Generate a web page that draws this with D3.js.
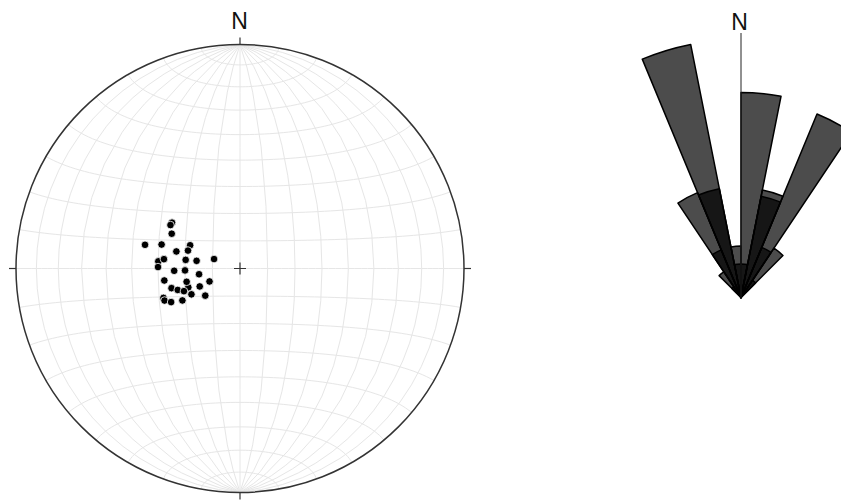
<!DOCTYPE html>
<html lang="en">
<head>
<meta charset="utf-8">
<title>Stereonet and rose diagram</title>
<script src="https://d3js.org/d3.v7.min.js"></script>
<style>
  body { margin: 0; background: #fff; }
  .grid { fill: none; stroke: #e6e6e6; stroke-width: 1; }
  .primitive { fill: none; stroke: #333; stroke-width: 1.5; }
  .tick { stroke: #333; stroke-width: 1.2; }
  .pole { fill: #000; stroke: #fff; stroke-width: 0.8; }
  .petal { fill: #000; fill-opacity: 0.7; stroke: #000; stroke-width: 1.5; stroke-linejoin: round; }
  .label { font-family: "Liberation Sans", Arial, sans-serif; fill: #111; text-anchor: middle; }
</style>
</head>
<body>
<div id="chart"></div>
<script>
// poles, lower hemisphere (degrees)
var poleTrend  = [304, 295, 275, 250, 249,
                  302, 297, 284, 287, 285, 289, 277, 279, 280, 290, 271, 268, 268,
                  262, 261, 256, 247, 254, 251, 248, 246, 242, 232, 247, 244, 241];
var polePlunge = [60, 70, 60, 70, 60,
                  60, 62, 54, 60, 66, 70, 62, 70, 74, 80, 60, 66, 70,
                  75, 62, 70, 78, 64, 66, 68, 74, 70, 74, 60, 62, 66];

// rose diagram, 11.25 degree bins (start azimuth)
var binStart = [315, 326.25, 337.5, 348.75, 0, 11.25, 22.5, 33.75];
var binWidth = 11.25;
var roseOuter = [1.2, 4.4, 10, 2.0, 7.95, 4.25, 7.7, 2.3];
var roseInner = [0.5, 2.0, 4.3, 1.3, 1.3, 4.0, 2.1, 0.8];

var width = 841, height = 500;
var cx = 240, cy = 268.5, R = 224;
var rx = 741, ry = 297.5;

var svg = d3.select("#chart").append("svg")
  .attr("width", width)
  .attr("height", height);

// equal-area net
var projection = d3.geoAzimuthalEqualArea()
  .scale(R / Math.SQRT2)
  .translate([cx, cy])
  .rotate([0, 0])
  .clipAngle(90);

var graticule = d3.geoGraticule()
  .extent([[-180, -90 + 1e-6], [180, 90 - 1e-6]])
  .step([10, 10]);

svg.append("path")
  .datum(graticule())
  .attr("class", "grid")
  .attr("d", d3.geoPath(projection));

svg.append("circle")
  .attr("class", "primitive")
  .attr("cx", cx).attr("cy", cy).attr("r", R);

var ticks = [0, 90, 180, 270];
svg.selectAll("line.tick.dir")
  .data(ticks)
  .enter().append("line")
    .attr("class", "tick dir")
    .attr("x1", function(d) { return cx + R * Math.sin(d * Math.PI / 180); })
    .attr("y1", function(d) { return cy - R * Math.cos(d * Math.PI / 180); })
    .attr("x2", function(d) { return cx + (R + 7) * Math.sin(d * Math.PI / 180); })
    .attr("y2", function(d) { return cy - (R + 7) * Math.cos(d * Math.PI / 180); });

// centre cross
svg.append("path")
  .attr("class", "tick")
  .attr("d", "M" + (cx - 6) + "," + cy + "H" + (cx + 6) + "M" + cx + "," + (cy - 6) + "V" + (cy + 6));

svg.append("text")
  .attr("class", "label")
  .attr("x", cx - 0.5).attr("y", 28.5)
  .style("font-size", "23px")
  .text("N");

// poles: radius from equal-area factor
var rScale = d3.scaleLinear().domain([0, 1]).range([0, R]);
var poles = poleTrend.map(function(t, i) {
  var f = Math.SQRT2 * Math.sin((90 - polePlunge[i]) / 2 * Math.PI / 180);
  var a = t * Math.PI / 180;
  return { x: cx + rScale(f) * Math.sin(a), y: cy - rScale(f) * Math.cos(a) };
});

svg.selectAll("circle.pole")
  .data(poles)
  .enter().append("circle")
    .attr("class", "pole")
    .attr("cx", function(d) { return d.x; })
    .attr("cy", function(d) { return d.y; })
    .attr("r", 3.8);

// rose diagram
var lenScale = d3.scaleLinear().domain([0, 10]).range([0, 258]);
var arc = d3.arc().innerRadius(0);
var rose = svg.append("g").attr("transform", "translate(" + rx + "," + ry + ")");

[roseOuter, roseInner].forEach(function(series) {
  rose.selectAll(null)
    .data(series)
    .enter().append("path")
      .attr("class", "petal")
      .attr("d", function(d, i) {
        return arc({
          outerRadius: lenScale(d),
          startAngle: binStart[i] * Math.PI / 180,
          endAngle: (binStart[i] + binWidth) * Math.PI / 180
        });
      });
});

rose.append("line")
  .attr("stroke", "#222")
  .attr("stroke-width", 1)
  .attr("x1", 0).attr("y1", 0)
  .attr("x2", 0).attr("y2", 33 - ry);

svg.append("text")
  .attr("class", "label")
  .attr("x", rx - 1.5).attr("y", 29.5)
  .style("font-size", "23px")
  .text("N");
</script>
</body>
</html>
